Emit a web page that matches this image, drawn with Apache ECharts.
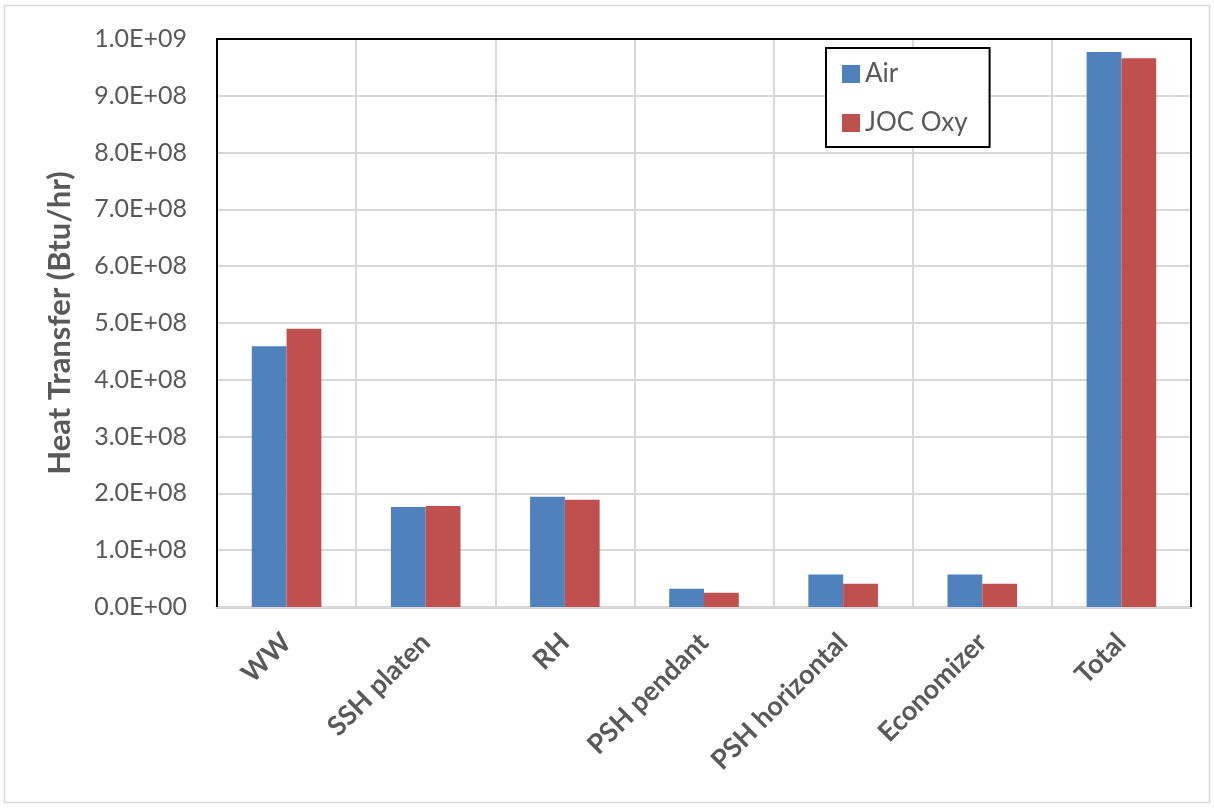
<!DOCTYPE html>
<html>
<head>
<meta charset="utf-8">
<script src="https://cdn.jsdelivr.net/npm/echarts@6/dist/echarts.min.js"></script>
<style>
  html, body { margin: 0; padding: 0; background: #fff; }
  #chart { width: 1214px; height: 808px; }
</style>
</head>
<body>
<div id="chart"></div>
<script>
// Heat transfer per boiler section, air-fired vs. JOC oxy-fired
const categories = ['WW', 'SSH platen', 'RH', 'PSH pendant', 'PSH horizontal', 'Economizer', 'Total'];
const airValues = [4.59e8, 1.76e8, 1.94e8, 3.2e7, 5.7e7, 5.7e7, 9.77e8];
const oxyValues = [4.90e8, 1.78e8, 1.89e8, 2.5e7, 4.1e7, 4.1e7, 9.66e8];
const seriesNames = ['Air', 'JOC Oxy'];
const yMin = 0, yMax = 1.0e9, yStep = 1.0e8;

const FONT = 'Lato, "Liberation Sans", sans-serif';
const TEXT = '#595959';

// plot area box
const G = { left: 217, top: 39, right: 23, bottom: 201 };
const W = 1214, H = 808;

// Excel-style scientific label: 1.0E+09
function sci(v) {
  const [m, e] = v.toExponential(1).split('e');
  return m + 'E' + e[0] + e.slice(1).padStart(2, '0');
}

const chart = echarts.init(document.getElementById('chart'), null, { renderer: 'canvas' });
chart.setOption({
  backgroundColor: '#fff',
  animation: false,
  textStyle: { fontFamily: FONT },
  graphic: [
    {
      // outer chart frame
      type: 'rect',
      shape: { x: 4.5, y: 5.5, width: 1205, height: 797 },
      style: { fill: 'none', stroke: '#d9d9d9', lineWidth: 1.5 },
      z: -1
    },
    {
      // black frame on the left, top and right of the plot area
      type: 'polyline',
      shape: {
        points: [
          [G.left, H - G.bottom],
          [G.left, G.top],
          [W - G.right, G.top],
          [W - G.right, H - G.bottom]
        ]
      },
      style: { fill: 'none', stroke: '#000', lineWidth: 2 },
      z: 5
    }
  ],
  grid: {
    left: G.left, right: G.right, top: G.top, bottom: G.bottom,
    show: true, borderWidth: 0, backgroundColor: '#fff'
  },
  legend: {
    data: seriesNames,
    orient: 'vertical',
    left: 826, top: 48,
    backgroundColor: '#fff',
    borderColor: '#000', borderWidth: 2, borderRadius: 0,
    padding: [13, 22, 11, 16],
    itemGap: 23,
    itemWidth: 18, itemHeight: 18,
    icon: 'rect',
    z: 10,
    textStyle: { fontFamily: FONT, fontSize: 26, color: TEXT }
  },
  xAxis: {
    type: 'category',
    data: categories,
    axisLine: { show: true, lineStyle: { color: '#d9d9d9', width: 3 } },
    axisTick: { show: false },
    splitLine: { show: true, interval: 0, lineStyle: { color: '#d9d9d9', width: 2 } },
    axisLabel: {
      interval: 0, rotate: 45, margin: 31,
      fontFamily: FONT, fontSize: 27, fontWeight: 'bold', color: TEXT
    }
  },
  yAxis: {
    type: 'value',
    min: yMin, max: yMax, interval: yStep,
    name: 'Heat Transfer (Btu/hr)',
    nameLocation: 'middle',
    nameGap: 142,
    nameTextStyle: { fontFamily: FONT, fontSize: 31, fontWeight: 'bold', color: TEXT },
    axisLine: { show: true, lineStyle: { color: '#000', width: 2 } },
    axisTick: { show: false },
    splitLine: { show: true, lineStyle: { color: '#d9d9d9', width: 2 } },
    axisLabel: { formatter: sci, margin: 30, fontFamily: FONT, fontSize: 25, color: TEXT }
  },
  series: [
    {
      name: seriesNames[0], type: 'bar', data: airValues,
      itemStyle: { color: '#4F81BD' },
      barGap: '0%', barCategoryGap: '50%'
    },
    {
      name: seriesNames[1], type: 'bar', data: oxyValues,
      itemStyle: { color: '#C0504D' },
      barGap: '0%', barCategoryGap: '50%'
    }
  ]
});
</script>
</body>
</html>
